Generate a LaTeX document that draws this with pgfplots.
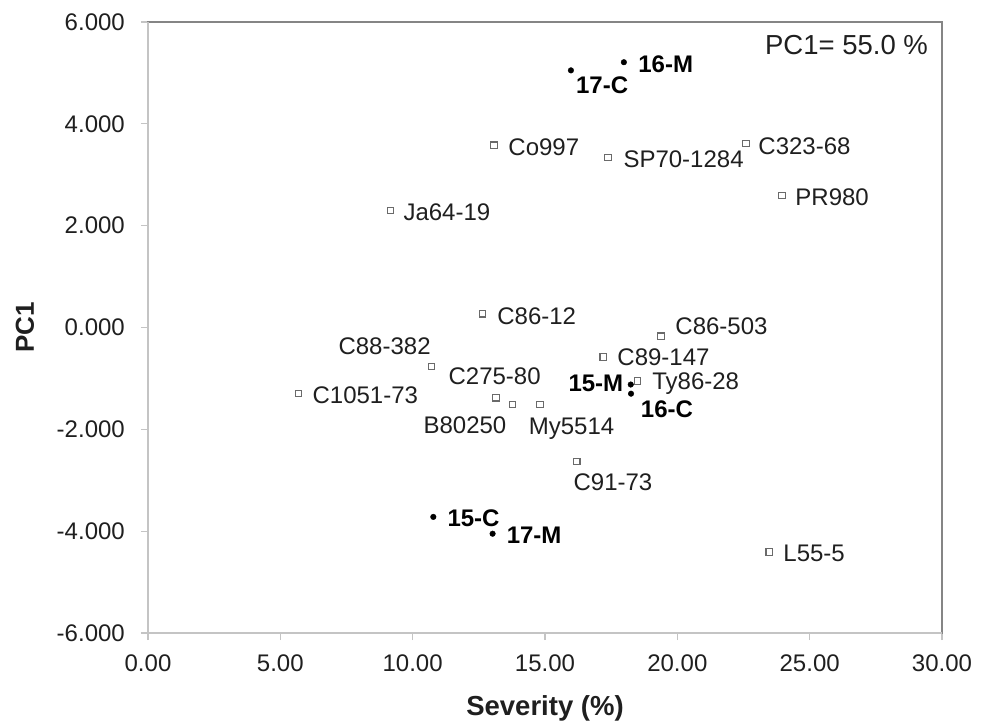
\documentclass[border=0pt]{standalone}
\usepackage{pgfplots}
\pgfplotsset{compat=1.18}
\usepackage{pgfplotstable}
\usepackage{fontspec}
\setmainfont{Liberation Sans}
\definecolor{boxgray}{HTML}{858585}
\definecolor{axgray}{HTML}{C4C4C4}
\definecolor{mkgray}{HTML}{6A6A6A}

\pgfplotstableread{
x y label dx dy
13.07 3.58 Co997 14 -10.5
17.38 3.34 SP70-1284 15 -10.4
9.17 2.30 Ja64-19 12.3 -10
22.59 3.61 C323-68 12 -10.4
23.95 2.59 PR980 13 -10.2
12.64 0.27 C86-12 14.3 -11
10.72 -0.77 C88-382 -93.7 12.2
5.68 -1.30 C1051-73 13.7 -10
13.15 -1.38 C275-80 -48 13.2
13.78 -1.51 B80250 -89.7 -29
14.81 -1.51 My5514 -11.7 -30
19.38 -0.17 C86-503 14 1.7
17.20 -0.58 C89-147 13.7 -8.7
18.49 -1.05 Ty86-28 14.4 -8.3
16.20 -2.63 C91-73 -3.7 -28.7
23.47 -4.41 L55-5 13.7 -9
}\cultivars

\pgfplotstableread{
x y label dx dy
15.98 5.05 17-C 5 -23
17.98 5.21 16-M 14.3 -10
18.24 -1.12 15-M -62.4 -6.7
18.25 -1.30 16-C 9.7 -24.3
10.78 -3.72 15-C 14 -9.4
13.02 -4.05 17-M 14 -9.7
}\isolates

\begin{document}
\begin{tikzpicture}
\begin{axis}[name=ax, scale only axis, width=794pt, height=611pt,
  xmin=0, xmax=30, ymin=-6, ymax=6,
  xtick={0,5,...,30}, xticklabels={0.00,5.00,10.00,15.00,20.00,25.00,30.00},
  ytick={-6,-4,...,6}, yticklabels={-6.000,-4.000,-2.000,0.000,2.000,4.000,6.000},
  xtick pos=bottom, ytick pos=left, tick align=outside, major tick length=7pt,
  every tick/.style={axgray, line width=1.2pt},
  axis line style={boxgray, line width=1.3pt},
  tick label style={font=\fontsize{24}{28}\selectfont, text=black!88},
  xticklabel style={anchor=base, inner sep=0pt, yshift=-31pt},
  yticklabel style={anchor=east, inner sep=0pt, xshift=-16pt},
  xlabel={Severity (\%)}, ylabel={PC1},
  xlabel style={at={(axis description cs:0.5,-0.1358)}, anchor=base, inner sep=0pt,
    font=\fontsize{27.5}{32}\selectfont\bfseries, text=black!88},
  ylabel style={at={(axis description cs:-0.1549,0.5)}, anchor=center, inner sep=0pt,
    font=\fontsize{26}{30}\selectfont\bfseries, text=black!88},
  clip=false]
\draw[axgray, line width=1.3pt] (rel axis cs:0,1) -- (rel axis cs:0,0) -- (rel axis cs:1,0);
\addplot[only marks, mark=square, mark size=3.2pt,
  mark options={draw=mkgray, line width=1.1pt, fill=white},
  nodes near coords, point meta=explicit symbolic,
  visualization depends on={\thisrow{dx}\as\dx},
  visualization depends on={\thisrow{dy}\as\dy},
  every node near coord/.append style={anchor=base west, inner sep=0pt,
    xshift=\dx*1pt, yshift=\dy*1pt, font=\fontsize{24}{28}\selectfont, text=black!88}]
  table[x=x, y=y, meta=label] {\cultivars};
\addplot[only marks, mark=*, mark size=2.8pt, mark options={draw=black, fill=black},
  nodes near coords, point meta=explicit symbolic,
  visualization depends on={\thisrow{dx}\as\dx},
  visualization depends on={\thisrow{dy}\as\dy},
  every node near coord/.append style={anchor=base west, inner sep=0pt,
    xshift=\dx*1pt, yshift=\dy*1pt, font=\fontsize{24}{28}\selectfont\bfseries, text=black}]
  table[x=x, y=y, meta=label] {\isolates};
\node[anchor=base west, inner sep=0pt, font=\fontsize{27.5}{32}\selectfont, text=black!88]
  at (rel axis cs:0.777,0.946) {PC1= 55.0 \%};
\end{axis}
\path ([xshift=-148pt, yshift=-94pt]ax.south west) rectangle ([xshift=47pt, yshift=22pt]ax.north east);
\end{tikzpicture}
\end{document}
